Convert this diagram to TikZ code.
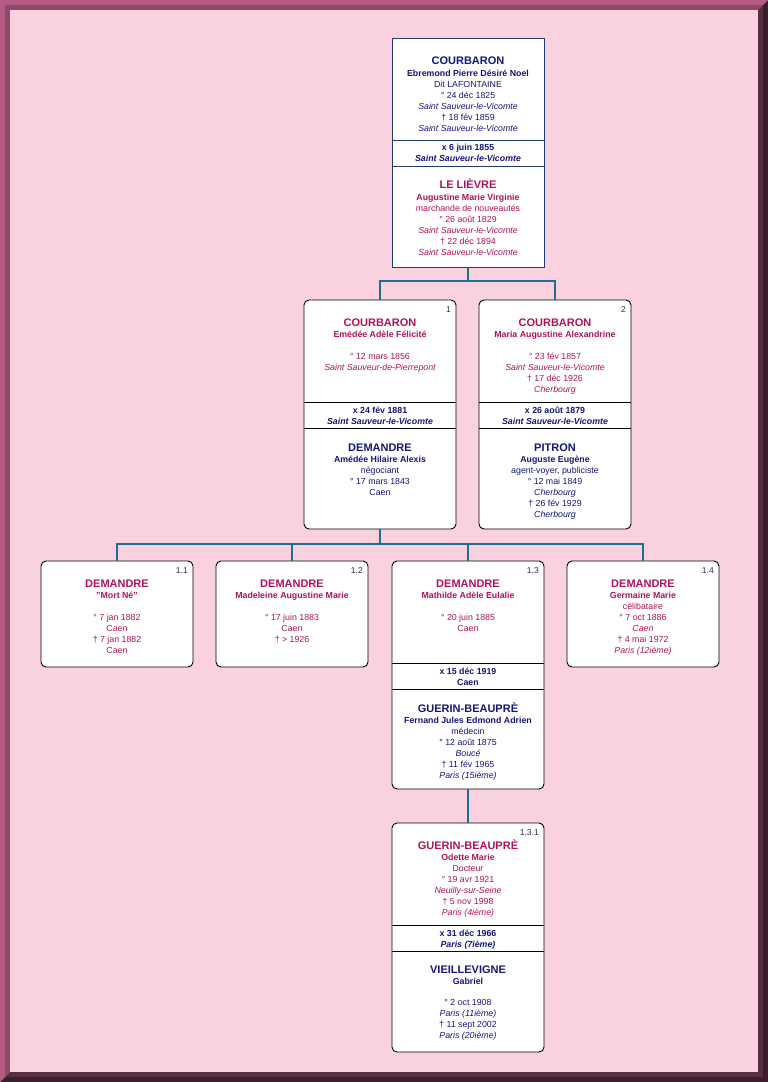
\documentclass[tikz,border=0pt]{standalone}
\usepackage{fontspec}
\setmainfont{Liberation Sans}
\definecolor{bgpink}{RGB}{249,209,223}
\definecolor{frLightA}{RGB}{178,92,132}
\definecolor{frLightB}{RGB}{146,72,106}
\definecolor{frDarkA}{RGB}{58,30,44}
\definecolor{frDarkB}{RGB}{88,46,66}
\definecolor{male}{RGB}{22,22,122}
\definecolor{fem}{RGB}{176,18,92}
\definecolor{lbl}{RGB}{40,40,90}
\definecolor{conncol}{RGB}{28,112,142}
\definecolor{topborder}{RGB}{30,60,110}
\newcommand\Ln[5]{\node[#4] (#1) at (#2,#3) {#5};}
\tikzset{
  base/.style={anchor=base, inner sep=0pt},
  sur/.style={base, font=\fontsize{11}{13}\selectfont\bfseries},
  fnm/.style={base, font=\fontsize{8.8}{10}\selectfont\bfseries},
  txt/.style={base, font=\fontsize{8.8}{10}\selectfont},
  itx/.style={base, font=\fontsize{8.8}{10}\selectfont\itshape},
  mar/.style={base, font=\fontsize{8.8}{10}\selectfont\bfseries, text=male},
  mari/.style={base, font=\fontsize{8.8}{10}\selectfont\bfseries\itshape, text=male},
  lab/.style={anchor=base east, inner sep=0pt, font=\fontsize{8.5}{10}\selectfont, text=lbl},
  M/.style={text=male}, F/.style={text=fem},
  pbox/.style={draw=black, line width=0.9pt, fill=white, rounded corners=5pt,
    anchor=north west, inner sep=0pt, outer sep=0pt, minimum width=152pt},
  topbox/.style={draw=topborder, line width=0.9pt, fill=white,
    anchor=north west, inner sep=0pt, outer sep=0pt, minimum width=152pt},
  sepline/.style={line width=0.9pt, draw=black},
  conn/.style={draw=conncol, line width=2pt},
}
\begin{document}
\begin{tikzpicture}[x=1pt, y=-1pt]
\useasboundingbox (0,0) rectangle (768,1082);
% frame
\fill[frDarkA] (0,0) rectangle (768,1082);
\fill[frDarkB] (5,5) rectangle (763,1077);
\fill[frLightA] (0,0) -- (768,0) -- (763,5) -- (5,5) -- (5,1077) -- (0,1082) -- cycle;
\fill[frLightB] (5,5) -- (763,5) -- (758,10) -- (10,10) -- (10,1072) -- (5,1077) -- cycle;
\fill[bgpink] (10,10) rectangle (758,1072);

% boxes
\node[topbox, minimum height=229pt] (b0) at (392,38) {};
\node[pbox, minimum height=229pt] (b1) at (304,300) {};
\node[pbox, minimum height=229pt] (b2) at (479,300) {};
\node[pbox, minimum height=106pt] (c1) at (41,561) {};
\node[pbox, minimum height=106pt] (c2) at (216,561) {};
\node[pbox, minimum height=228pt] (c3) at (392,561) {};
\node[pbox, minimum height=106pt] (c4) at (567,561) {};
\node[pbox, minimum height=229pt] (d1) at (392,823) {};

% connectors
\coordinate (j1) at (b0.south |- 0,281);
\coordinate (j2) at (b1.south |- 0,543.5);
\draw[conn] (b0.south) -- (j1);
\draw[conn] (b1.north) |- (j1) -| (b2.north);
\draw[conn] (b1.south) -- (j2);
\draw[conn] (c1.north) |- (j2) -| (c4.north);
\draw[conn] (c2.north) -- (c2.north |- j2);
\draw[conn] (c3.north) -- (c3.north |- j2);
\draw[conn] (c3.south) -- (d1.north);

% separators
\draw[sepline, draw=topborder] (b0.west |- 0,140) -- (b0.east |- 0,140);
\draw[sepline, draw=topborder] (b0.west |- 0,166) -- (b0.east |- 0,166);
\draw[sepline] (b1.west |- 0,402.5) -- (b1.east |- 0,402.5);
\draw[sepline] (b1.west |- 0,428.5) -- (b1.east |- 0,428.5);
\draw[sepline] (b2.west |- 0,402.5) -- (b2.east |- 0,402.5);
\draw[sepline] (b2.west |- 0,428.5) -- (b2.east |- 0,428.5);
\draw[sepline] (c3.west |- 0,663) -- (c3.east |- 0,663);
\draw[sepline] (c3.west |- 0,689) -- (c3.east |- 0,689);
\draw[sepline] (d1.west |- 0,925) -- (d1.east |- 0,925);
\draw[sepline] (d1.west |- 0,951) -- (d1.east |- 0,951);

% ---- b0
\Ln{n0a}{468}{64.5}{sur,M}{COURBARON}
\Ln{n0b}{468}{76}{fnm,M}{Ebremond Pierre Désiré Noel}
\Ln{n0c}{468}{87}{txt,M}{Dit LAFONTAINE}
\Ln{n0d}{468}{98}{txt,M}{° 24 déc 1825}
\Ln{n0e}{468}{109}{itx,M}{Saint Sauveur-le-Vicomte}
\Ln{n0f}{468}{120}{txt,M}{† 18 fév 1859}
\Ln{n0g}{468}{131}{itx,M}{Saint Sauveur-le-Vicomte}
\Ln{m0a}{468}{150}{mar}{x 6 juin 1855}
\Ln{m0b}{468}{161}{mari}{Saint Sauveur-le-Vicomte}
\Ln{s0a}{468}{188.5}{sur,F}{LE LIÈVRE}
\Ln{s0b}{468}{200}{fnm,F}{Augustine Marie Virginie}
\Ln{s0c}{468}{211}{txt,F}{marchande de nouveautés}
\Ln{s0d}{468}{222}{txt,F}{° 26 août 1829}
\Ln{s0e}{468}{233}{itx,F}{Saint Sauveur-le-Vicomte}
\Ln{s0f}{468}{244}{txt,F}{† 22 déc 1894}
\Ln{s0g}{468}{255}{itx,F}{Saint Sauveur-le-Vicomte}

% ---- b1
\Ln{l1}{451}{312.5}{lab}{1}
\Ln{n1a}{380}{326}{sur,F}{COURBARON}
\Ln{n1b}{380}{337.5}{fnm,F}{Emédée Adèle Félicité}
\Ln{n1c}{380}{359}{txt,F}{° 12 mars 1856}
\Ln{n1d}{380}{370}{itx,F}{Saint Sauveur-de-Pierrepont}
\Ln{m1a}{380}{413}{mar}{x 24 fév 1881}
\Ln{m1b}{380}{424}{mari}{Saint Sauveur-le-Vicomte}
\Ln{s1a}{380}{451}{sur,M}{DEMANDRE}
\Ln{s1b}{380}{462}{fnm,M}{Amédée Hilaire Alexis}
\Ln{s1c}{380}{473}{txt,M}{négociant}
\Ln{s1d}{380}{484}{txt,M}{° 17 mars 1843}
\Ln{s1e}{380}{495}{txt,M}{Caen}

% ---- b2
\Ln{l2}{626}{312.5}{lab}{2}
\Ln{n2a}{555}{326}{sur,F}{COURBARON}
\Ln{n2b}{555}{337.5}{fnm,F}{Maria Augustine Alexandrine}
\Ln{n2c}{555}{359}{txt,F}{° 23 fév 1857}
\Ln{n2d}{555}{370}{itx,F}{Saint Sauveur-le-Vicomte}
\Ln{n2e}{555}{381}{txt,F}{† 17 déc 1926}
\Ln{n2f}{555}{392}{itx,F}{Cherbourg}
\Ln{m2a}{555}{413}{mar}{x 26 août 1879}
\Ln{m2b}{555}{424}{mari}{Saint Sauveur-le-Vicomte}
\Ln{s2a}{555}{451}{sur,M}{PITRON}
\Ln{s2b}{555}{462}{fnm,M}{Auguste Eugène}
\Ln{s2c}{555}{473}{txt,M}{agent-voyer, publiciste}
\Ln{s2d}{555}{484}{txt,M}{° 12 mai 1849}
\Ln{s2e}{555}{495}{itx,M}{Cherbourg}
\Ln{s2f}{555}{506}{txt,M}{† 26 fév 1929}
\Ln{s2g}{555}{517}{itx,M}{Cherbourg}

% ---- c1
\Ln{l3}{188}{573.5}{lab}{1.1}
\Ln{n3a}{117}{587}{sur,F}{DEMANDRE}
\Ln{n3b}{117}{598.5}{fnm,F}{"Mort Né"}
\Ln{n3c}{117}{620}{txt,F}{° 7 jan 1882}
\Ln{n3d}{117}{631}{txt,F}{Caen}
\Ln{n3e}{117}{642}{txt,F}{† 7 jan 1882}
\Ln{n3f}{117}{653}{txt,F}{Caen}

% ---- c2
\Ln{l4}{363}{573.5}{lab}{1.2}
\Ln{n4a}{292}{587}{sur,F}{DEMANDRE}
\Ln{n4b}{292}{598.5}{fnm,F}{Madeleine Augustine Marie}
\Ln{n4c}{292}{620}{txt,F}{° 17 juin 1883}
\Ln{n4d}{292}{631}{txt,F}{Caen}
\Ln{n4e}{292}{642}{txt,F}{† > 1926}

% ---- c3
\Ln{l5}{539}{573.5}{lab}{1.3}
\Ln{n5a}{468}{587}{sur,F}{DEMANDRE}
\Ln{n5b}{468}{598.5}{fnm,F}{Mathilde Adèle Eulalie}
\Ln{n5c}{468}{620}{txt,F}{° 20 juin 1885}
\Ln{n5d}{468}{631}{txt,F}{Caen}
\Ln{m5a}{468}{674}{mar}{x 15 déc 1919}
\Ln{m5b}{468}{685}{mar}{Caen}
\Ln{s5a}{468}{712}{sur,M}{GUERIN-BEAUPRÈ}
\Ln{s5b}{468}{723}{fnm,M}{Fernand Jules Edmond Adrien}
\Ln{s5c}{468}{734}{txt,M}{médecin}
\Ln{s5d}{468}{745}{txt,M}{° 12 août 1875}
\Ln{s5e}{468}{756}{itx,M}{Boucé}
\Ln{s5f}{468}{767}{txt,M}{† 11 fév 1965}
\Ln{s5g}{468}{778}{itx,M}{Paris (15ième)}

% ---- c4
\Ln{l6}{714}{573.5}{lab}{1.4}
\Ln{n6a}{643}{587}{sur,F}{DEMANDRE}
\Ln{n6b}{643}{598.5}{fnm,F}{Germaine Marie}
\Ln{n6c}{643}{609.5}{txt,F}{célibataire}
\Ln{n6d}{643}{620.5}{txt,F}{° 7 oct 1886}
\Ln{n6e}{643}{631.5}{itx,F}{Caen}
\Ln{n6f}{643}{642.5}{txt,F}{† 4 mai 1972}
\Ln{n6g}{643}{653.5}{itx,F}{Paris (12ième)}

% ---- d1
\Ln{l7}{539}{835}{lab}{1.3.1}
\Ln{n7a}{468}{849.5}{sur,F}{GUERIN-BEAUPRÈ}
\Ln{n7b}{468}{860.5}{fnm,F}{Odette Marie}
\Ln{n7c}{468}{871.5}{txt,F}{Docteur}
\Ln{n7d}{468}{882.5}{txt,F}{° 19 avr 1921}
\Ln{n7e}{468}{893.5}{itx,F}{Neuilly-sur-Seine}
\Ln{n7f}{468}{904.5}{txt,F}{† 5 nov 1998}
\Ln{n7g}{468}{915.5}{itx,F}{Paris (4ième)}
\Ln{m7a}{468}{936}{mar}{x 31 déc 1966}
\Ln{m7b}{468}{947}{mari}{Paris (7ième)}
\Ln{s7a}{468}{973}{sur,M}{VIEILLEVIGNE}
\Ln{s7b}{468}{984.5}{fnm,M}{Gabriel}
\Ln{s7c}{468}{1005}{txt,M}{° 2 oct 1908}
\Ln{s7d}{468}{1016}{itx,M}{Paris (11ième)}
\Ln{s7e}{468}{1027}{txt,M}{† 11 sept 2002}
\Ln{s7f}{468}{1038}{itx,M}{Paris (20ième)}
\end{tikzpicture}
\end{document}
